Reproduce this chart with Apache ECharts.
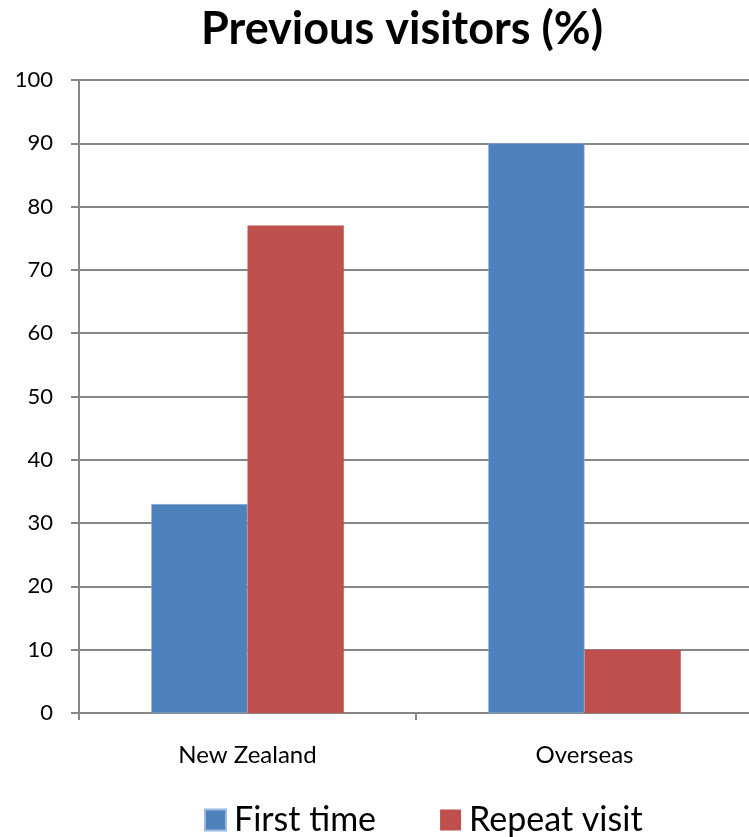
<!DOCTYPE html>
<html>
<head>
<meta charset="utf-8">
<script src="https://cdn.jsdelivr.net/npm/echarts@6/dist/echarts.min.js"></script>
<style>
  html, body { margin: 0; padding: 0; background: #fff; overflow: hidden; }
  /* plot area runs slightly past the right edge of the window */
  #chart { width: 753px; height: 837px; }
</style>
</head>
<body>
<div id="chart"></div>
<script>
// Share of visitors who were on their first visit vs. a repeat visit
const categories = ['New Zealand', 'Overseas'];
const firstTime = [33, 90];
const repeatVisit = [77, 10];
const yTicks = { min: 0, max: 100, interval: 10 };

const FONT = 'Lato, "Open Sans", sans-serif';
const GRID_COLOR = '#878787';

const chart = echarts.init(document.getElementById('chart'), null, { renderer: 'canvas' });
chart.setOption({
  backgroundColor: '#ffffff',
  animation: false,
  title: {
    text: 'Previous visitors (%)',
    left: 196,
    top: 2,
    textStyle: { fontFamily: FONT, fontWeight: 'bold', fontSize: 45, color: '#000' }
  },
  legend: {
    top: 803,
    left: 204,
    padding: 0,
    itemWidth: 21,
    itemHeight: 21,
    itemGap: 64,
    icon: 'rect',
    textStyle: { fontFamily: FONT, fontSize: 34, color: '#000', padding: [0, 0, 0, 3] }
  },
  grid: { left: 79, top: 80, right: 0, height: 633 },
  xAxis: {
    type: 'category',
    data: categories,
    axisLine: { lineStyle: { color: GRID_COLOR, width: 2 } },
    axisTick: { show: true, length: 7, lineStyle: { color: GRID_COLOR, width: 2 } },
    axisLabel: { fontFamily: FONT, fontSize: 24, color: '#000', margin: 30 }
  },
  yAxis: {
    type: 'value',
    min: yTicks.min,
    max: yTicks.max,
    interval: yTicks.interval,
    axisLine: { show: true, lineStyle: { color: GRID_COLOR, width: 2 } },
    axisTick: { show: true, length: 8, lineStyle: { color: GRID_COLOR, width: 2 } },
    axisLabel: { fontFamily: FONT, fontSize: 22, color: '#000', margin: 26 },
    splitLine: { lineStyle: { color: GRID_COLOR, width: 2 } }
  },
  series: [
    {
      name: 'First time',
      type: 'bar',
      data: firstTime,
      barGap: '0%',
      barCategoryGap: '42.86%',
      itemStyle: { color: '#4F81BD', borderColor: '#9DB9DD', borderWidth: 0.5 }
    },
    {
      name: 'Repeat visit',
      type: 'bar',
      data: repeatVisit,
      itemStyle: { color: '#C0504D' }
    }
  ]
});
</script>
</body>
</html>
